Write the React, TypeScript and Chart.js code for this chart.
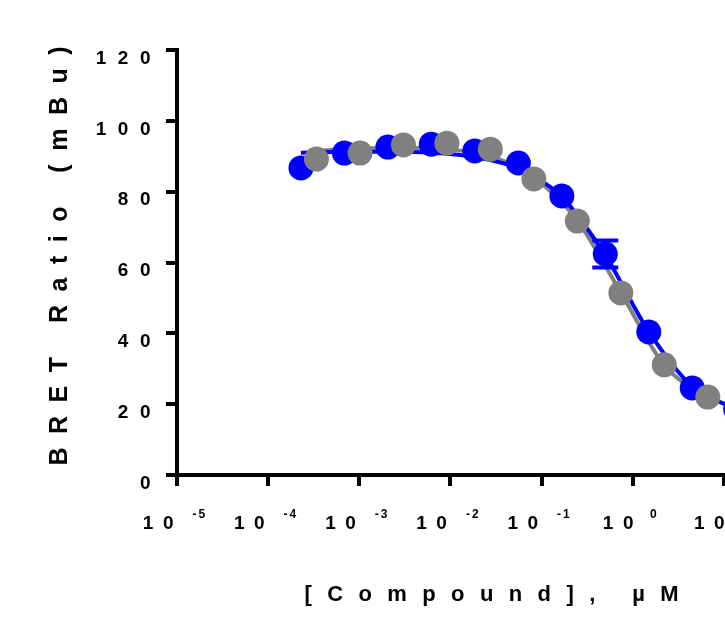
import React, { useEffect, useRef } from "react";
import { Chart, registerables } from "chart.js";

Chart.register(...registerables);

// ---- data ----
const blueConc = [0.000229, 0.000686, 0.00206, 0.00617, 0.0185, 0.0556, 0.167, 0.5, 1.5, 4.5, 13.5];
const blueResp = [86.7, 90.9, 92.6, 93.4, 91.5, 88.1, 78.8, 62.4, 40.4, 24.6, 18.6];
const blueErr = [0, 0, 0, 0, 0, 0, 0, 3.8, 0, 0, 0];
const blueFit = [91.0, 91.3, 91.3, 91.0, 89.8, 86.5, 78.5, 62.0, 40.5, 25.0, 18.7];

const grayConc = [0.000339, 0.00102, 0.00305, 0.00914, 0.0274, 0.0823, 0.247, 0.741, 2.22, 6.67];
const grayResp = [89.2, 90.9, 93.2, 93.7, 92.0, 83.6, 71.7, 51.4, 31.1, 22.0];
const grayFit = [91.5, 92.2, 92.4, 92.0, 90.0, 84.0, 71.8, 51.5, 31.0, 21.8];

const xTickExponents = [-5, -4, -3, -2, -1, 0, 1, 2];
const yTickValues = [0, 20, 40, 60, 80, 100, 120];
const yTitle = "BRET Ratio (mBu)";
const xTitle = "[Compound], µM";

const BLUE = "#0000ff";
const GRAY = "#808080";
const FONT = '"Liberation Sans", Arial, sans-serif';

function spacedWidth(ctx: CanvasRenderingContext2D, text: string, spacing: number) {
  const chars = Array.from(text);
  let w = 0;
  chars.forEach((ch, i) => {
    w += ctx.measureText(ch).width;
    if (i < chars.length - 1) w += spacing;
  });
  return w;
}

function drawSpaced(ctx: CanvasRenderingContext2D, text: string, x: number, y: number, spacing: number) {
  let cx = x;
  for (const ch of Array.from(text)) {
    ctx.fillText(ch, cx, y);
    cx += ctx.measureText(ch).width + spacing;
  }
}

const decorPlugin = {
  id: "decor",
  beforeDatasetDraw(chart: any, args: any) {
    if (args.index !== 1) return;
    const ctx: CanvasRenderingContext2D = chart.ctx;
    const xs = chart.scales.x;
    const ys = chart.scales.y;
    ctx.save();
    ctx.strokeStyle = BLUE;
    ctx.lineWidth = 4;
    blueConc.forEach((c, i) => {
      const e = blueErr[i];
      if (!e) return;
      const px = xs.getPixelForValue(c);
      const top = ys.getPixelForValue(blueResp[i] + e);
      const bot = ys.getPixelForValue(blueResp[i] - e);
      ctx.beginPath();
      ctx.moveTo(px, top);
      ctx.lineTo(px, bot);
      ctx.moveTo(px - 13, top);
      ctx.lineTo(px + 13, top);
      ctx.moveTo(px - 13, bot);
      ctx.lineTo(px + 13, bot);
      ctx.stroke();
    });
    ctx.restore();
  },
  afterDraw(chart: any) {
    const ctx: CanvasRenderingContext2D = chart.ctx;
    const xs = chart.scales.x;
    const ys = chart.scales.y;
    const area = chart.chartArea;
    ctx.save();
    ctx.fillStyle = "#000";
    ctx.textAlign = "left";
    ctx.textBaseline = "alphabetic";

    // y tick labels
    ctx.font = `bold 19px ${FONT}`;
    yTickValues.forEach((v) => {
      const s = String(v);
      const py = ys.getPixelForValue(v);
      const w = spacedWidth(ctx, s, 11.5);
      drawSpaced(ctx, s, area.left - 26.5 - w, py + 13.8, 11.5);
    });

    // x tick labels: 10 with superscript exponent
    xTickExponents.forEach((p) => {
      const px = xs.getPixelForValue(Math.pow(10, p));
      const exp = p < 0 ? "-" + Math.abs(p) : String(p);
      ctx.font = `bold 19px ${FONT}`;
      const w10 = spacedWidth(ctx, "10", 9.5);
      ctx.font = `bold 12px ${FONT}`;
      const wexp = spacedWidth(ctx, exp, 2);
      const gap = p < 0 ? 19 : 16.5;
      const total = w10 + gap + wexp;
      const start = px - total / 2 - 3;
      ctx.font = `bold 19px ${FONT}`;
      drawSpaced(ctx, "10", start, area.bottom + 54, 9.5);
      ctx.font = `bold 12px ${FONT}`;
      drawSpaced(ctx, exp, start + w10 + gap, area.bottom + 43, 2);
    });

    // x title
    ctx.font = `bold 22px ${FONT}`;
    const xw = spacedWidth(ctx, xTitle, 15.4);
    drawSpaced(ctx, xTitle, area.left + 314.5 - xw / 2, area.bottom + 126, 15.4);

    // y title (rotated)
    ctx.font = `bold 25px ${FONT}`;
    const yw = spacedWidth(ctx, yTitle, 13.5);
    const cy = (area.top + area.bottom) / 2 - 6.5;
    ctx.translate(area.left - 110, cy);
    ctx.rotate(-Math.PI / 2);
    drawSpaced(ctx, yTitle, -yw / 2, 0, 13.5);
    ctx.restore();
  },
};

export default function App() {
  const canvasRef = useRef<HTMLCanvasElement | null>(null);

  useEffect(() => {
    if (!canvasRef.current) return;
    const chart = new Chart(canvasRef.current, {
      type: "scatter",
      data: {
        datasets: [
          {
            label: "gray",
            data: grayConc.map((x, i) => ({ x, y: grayResp[i] })),
            showLine: false,
            pointRadius: 12.5,
            pointHoverRadius: 12.5,
            pointBackgroundColor: GRAY,
            pointBorderWidth: 0,
            order: 0,
          },
          {
            label: "blue",
            data: blueConc.map((x, i) => ({ x, y: blueResp[i] })),
            showLine: false,
            pointRadius: 12.5,
            pointHoverRadius: 12.5,
            pointBackgroundColor: BLUE,
            pointBorderWidth: 0,
            order: 1,
          },
          {
            label: "blue fit",
            data: blueConc.map((x, i) => ({ x, y: blueFit[i] })),
            showLine: true,
            pointRadius: 0,
            borderColor: BLUE,
            borderWidth: 4,
            cubicInterpolationMode: "monotone",
            order: 2,
          },
          {
            label: "gray fit",
            data: grayConc.map((x, i) => ({ x, y: grayFit[i] })),
            showLine: true,
            pointRadius: 0,
            borderColor: GRAY,
            borderWidth: 4,
            cubicInterpolationMode: "monotone",
            order: 3,
          },
        ],
      },
      options: {
        animation: false,
        responsive: true,
        maintainAspectRatio: false,
        layout: { padding: { left: 0, top: 50, right: 30, bottom: 0 } },
        plugins: { legend: { display: false }, tooltip: { enabled: false } },
        scales: {
          x: {
            type: "logarithmic",
            min: 1e-5,
            max: 1e2,
            afterBuildTicks: (scale: any) => {
              scale.ticks = xTickExponents.map((p) => ({ value: Math.pow(10, p) }));
            },
            afterFit: (scale: any) => {
              scale.height = 168;
            },
            ticks: { display: false },
            grid: {
              display: true,
              drawOnChartArea: false,
              drawTicks: true,
              tickLength: 11,
              color: "#000",
              lineWidth: 4,
            },
            border: { display: true, color: "#000", width: 4 },
          },
          y: {
            type: "linear",
            min: 0,
            max: 120,
            afterBuildTicks: (scale: any) => {
              scale.ticks = yTickValues.map((v) => ({ value: v }));
            },
            afterFit: (scale: any) => {
              scale.width = 177;
            },
            ticks: { display: false },
            grid: {
              display: true,
              drawOnChartArea: false,
              drawTicks: true,
              tickLength: 11,
              color: "#000",
              lineWidth: 4,
            },
            border: { display: true, color: "#000", width: 4 },
          },
        },
      },
      plugins: [decorPlugin],
    } as any);
    return () => chart.destroy();
  }, []);

  return (
    <div
      style={{
        position: "absolute",
        left: 0,
        top: 0,
        width: 725,
        height: 643,
        overflow: "hidden",
        background: "#fff",
      }}
    >
      <div style={{ position: "relative", width: 845, height: 643 }}>
        <canvas ref={canvasRef} />
      </div>
    </div>
  );
}
